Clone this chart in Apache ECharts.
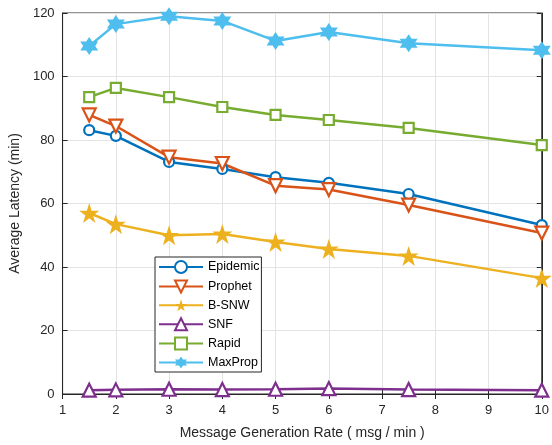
<!DOCTYPE html>
<html><head><meta charset="utf-8">
<script src="https://cdn.jsdelivr.net/npm/echarts@6/dist/echarts.min.js"></script>
<style>html,body{margin:0;padding:0;background:#fff}#c{width:552px;height:445px}</style>
</head><body><div id="c"></div>
<script>
const rates = [1.5, 2, 3, 4, 5, 6, 7.5, 10];
const epidemic = [83.1, 81.3, 73.1, 70.9, 68.3, 66.5, 63.0, 53.2];
const prophet  = [87.9, 84.4, 74.6, 72.6, 65.6, 64.4, 59.5, 50.7];
const bsnw     = [57.0, 53.5, 50.0, 50.4, 47.9, 45.7, 43.5, 36.5];
const snf      = [1.2, 1.3, 1.5, 1.4, 1.5, 1.7, 1.4, 1.2];
const rapid    = [93.5, 96.4, 93.5, 90.4, 87.9, 86.3, 83.8, 78.4];
const maxprop  = [109.6, 116.5, 119.0, 117.5, 111.2, 114.0, 110.5, 108.3];
const seriesNames = ['Epidemic','Prophet','B-SNW','SNF','Rapid','MaxProp'];

const pent = 'path://M50 0 L61.23 34.55 L97.55 34.55 L68.17 55.9 L79.39 90.45 L50 69.1 L20.61 90.45 L31.83 55.9 L2.45 34.55 L38.77 34.55 Z';
const hexa = 'path://M50 0 L64.43 25 L93.3 25 L78.87 50 L93.3 75 L64.43 75 L50 100 L35.57 75 L6.7 75 L21.13 50 L6.7 25 L35.57 25 Z';
const triDown = 'path://M0 0 L100 0 L50 86 Z';
const triUp = 'path://M50 0 L100 86 L0 86 Z';

const txt = '#262626';
function mk(name, data, color, symbol, size, filled) {
  return {
    name, type: 'line', data: data.map((v,i)=>[rates[i], v]),
    symbol, symbolSize: size, showAllSymbol: true,
    lineStyle: {color, width: 2.5},
    itemStyle: {color: filled ? color : '#fff', borderColor: color, borderWidth: filled ? 0 : 2.2, opacity: 1},
    emphasis: {disabled: true}
  };
}
const chart = echarts.init(document.getElementById('c'));
chart.setOption({
  animation: false,
  textStyle: {fontFamily: 'Liberation Sans, Arial, sans-serif'},
  grid: {left: 61, right: 7, top: 13, bottom: 51, show: true, borderColor: txt, borderWidth: 1, backgroundColor: '#fff'},
  legend: {
    orient: 'vertical', left: 155, top: 257, data: seriesNames,
    itemWidth: 44, itemHeight: 15, itemGap: 5.4,
    backgroundColor: '#fff', borderColor: txt, borderWidth: 1, borderRadius: 0,
    padding: [3, 2, 3, 3],
    textStyle: {color: '#000', fontSize: 12.5, fontFamily: 'Liberation Sans, Arial, sans-serif'}
  },
  xAxis: [{
    type: 'value', min: 1, max: 10, interval: 1,
    name: 'Message Generation Rate ( msg / min )', nameLocation: 'middle', nameGap: 32,
    nameTextStyle: {color: txt, fontSize: 14},
    axisLine: {show: true, lineStyle: {color: txt}},
    axisTick: {show: true, inside: true, length: 5, lineStyle: {color: txt}},
    axisLabel: {color: txt, fontSize: 13, margin: 10},
    splitLine: {show: true, lineStyle: {color: '#e3e3e3'}}
  }, {
    type: 'value', min: 1, max: 10, interval: 1, position: 'top',
    axisLine: {show: true, lineStyle: {color: txt}},
    axisTick: {show: true, inside: true, length: 5, lineStyle: {color: txt}},
    axisLabel: {show: false}, splitLine: {show: false}
  }],
  yAxis: [{
    type: 'value', min: 0, max: 120, interval: 20,
    name: 'Average Latency (min)', nameLocation: 'middle', nameGap: 38,
    nameTextStyle: {color: txt, fontSize: 14},
    axisLine: {show: true, lineStyle: {color: txt}},
    axisTick: {show: true, inside: true, length: 5, lineStyle: {color: txt}},
    axisLabel: {color: txt, fontSize: 13, margin: 8},
    splitLine: {show: true, lineStyle: {color: '#e3e3e3'}}
  }, {
    type: 'value', min: 0, max: 120, interval: 20, position: 'right',
    axisLine: {show: true, lineStyle: {color: txt}},
    axisTick: {show: true, inside: true, length: 5, lineStyle: {color: txt}},
    axisLabel: {show: false}, splitLine: {show: false}
  }],
  series: [
    mk('Epidemic', epidemic, '#0072BD', 'circle', 10, false),
    mk('Prophet', prophet, '#D95319', triDown, 13, false),
    mk('B-SNW', bsnw, '#EDB120', pent, 20, true),
    mk('SNF', snf, '#7E2F8E', triUp, 13, false),
    mk('Rapid', rapid, '#77AC30', 'rect', 10, false),
    mk('MaxProp', maxprop, '#4DBEEE', hexa, 18, true)
  ]
});
</script></body></html>
